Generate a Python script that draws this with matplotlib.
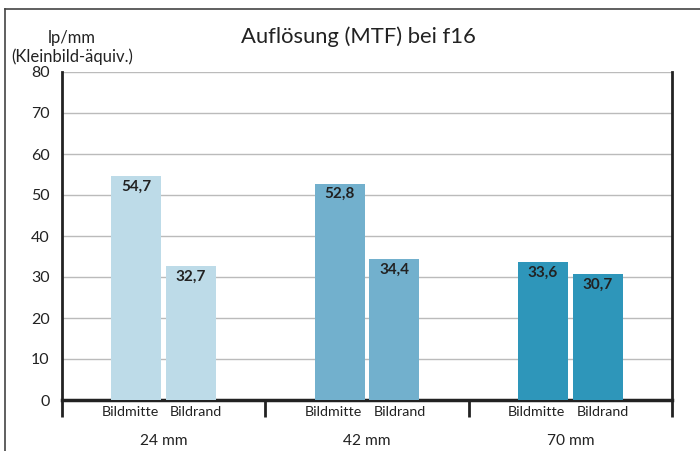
import numpy as np
import matplotlib.pyplot as plt
from matplotlib.lines import Line2D
from matplotlib.transforms import blended_transform_factory

plt.rcParams['font.family'] = ['Lato', 'DejaVu Sans']

# Daten
brennweiten = ['24 mm', '42 mm', '70 mm']
positionen = ['Bildmitte', 'Bildrand']
bildmitte = [54.7, 52.8, 33.6]
bildrand = [32.7, 34.4, 30.7]
farben = ['#bddbe8', '#72b0cd', '#2e96ba']

fig = plt.figure(figsize=(7, 4.51), dpi=100)
ax = fig.add_axes([62 / 700, 1 - 400 / 451, 610 / 700, 328 / 451])

x = np.arange(len(brennweiten)) + 0.5
breite = 0.246
versatz = 0.135

for i in range(len(brennweiten)):
    for xv, val in [(x[i] - versatz, bildmitte[i]), (x[i] + versatz, bildrand[i])]:
        ax.bar(xv, val, width=breite, color=farben[i], zorder=3)
        ax.text(xv, val - 0.9, f'{val:.1f}'.replace('.', ','), ha='center', va='top',
                fontsize=11, fontweight='bold', color='#222222', zorder=4)

ax.set_xlim(0, 3)
ax.set_ylim(0, 80)
ax.set_yticks(np.arange(0, 81, 10))
ax.tick_params(axis='y', length=0, pad=9, labelsize=11.5, colors='#222222')
ax.yaxis.grid(True, color='#bbbbbb', linewidth=1, zorder=0)
ax.set_xticks([0, 1, 2, 3])
ax.set_xticklabels([])
ax.tick_params(axis='x', length=12, width=2, color='#222222', direction='out')

ax.spines['top'].set_visible(False)
ax.spines['left'].set_linewidth(2)
ax.spines['right'].set_linewidth(2)
ax.spines['bottom'].set_linewidth(2.5)
for s in ['left', 'right', 'bottom']:
    ax.spines[s].set_color('#222222')

trans = blended_transform_factory(ax.transData, fig.transFigure)
for i in range(len(brennweiten)):
    ax.text(x[i] - versatz - 0.03, 1 - 412 / 451, positionen[0], transform=trans,
            ha='center', va='center', fontsize=10.3, color='#222222')
    ax.text(x[i] + versatz + 0.025, 1 - 412 / 451, positionen[1], transform=trans,
            ha='center', va='center', fontsize=10.3, color='#222222')
    ax.text(x[i], 1 - 441 / 451, brennweiten[i], transform=trans,
            ha='center', va='center', fontsize=11.2, color='#222222')

fig.text(358 / 700, 1 - 37 / 451, 'Auflösung (MTF) bei f16', ha='center', va='center',
         fontsize=15.8, color='#222222')
fig.text(72 / 700, 1 - 38 / 451, 'lp/mm', ha='center', va='center',
         fontsize=12, color='#222222')
fig.text(72 / 700, 1 - 57 / 451, '(Kleinbild-äquiv.)', ha='center', va='center',
         fontsize=12, color='#222222')

# Rahmen
fig.add_artist(Line2D([5 / 700, 5 / 700], [0, 1 - 9 / 451], transform=fig.transFigure,
                      color='#444444', linewidth=1.2))
fig.add_artist(Line2D([5 / 700, 1], [1 - 9 / 451, 1 - 9 / 451], transform=fig.transFigure,
                      color='#444444', linewidth=1.2))

fig.savefig('out.png', dpi=100)
